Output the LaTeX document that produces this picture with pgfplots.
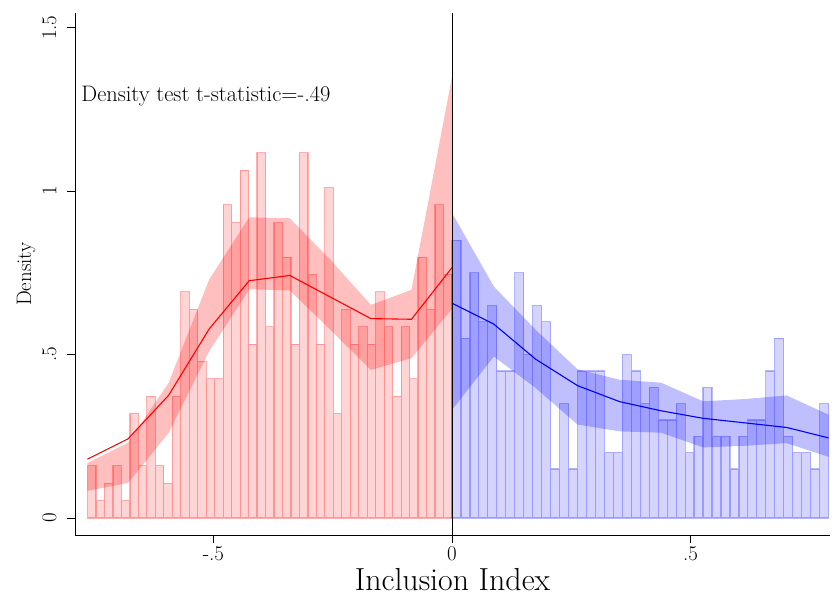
\documentclass[border=0pt]{standalone}
\usepackage{pgfplots}
\pgfplotsset{compat=1.18}
\begin{document}
\begin{tikzpicture}
\begin{axis}[
  scale only axis, width=755bp, height=522bp,
  xmin=-0.790, xmax=0.792, ymin=-0.052, ymax=1.545,
  axis x line*=bottom, axis y line*=left,
  axis line style={-, line width=0.9pt},
  tick align=outside, major tick length=8bp,
  tick style={black, line width=0.9pt},
  xtick={-0.5,0,0.5}, xticklabels={-.5,0,.5},
  ytick={0,0.5,1,1.5}, yticklabels={0,.5,1,1.5},
  /pgf/number format/assume math mode=true,
  ticklabel style={font=\fontsize{21}{23}\selectfont},
  yticklabel style={rotate=90, anchor=south},
  yticklabel shift=7bp,
  xlabel={Inclusion Index}, ylabel={Density},
  xlabel style={font=\fontsize{32}{34}\selectfont, yshift=-1bp},
  ylabel style={font=\fontsize{21}{23}\selectfont},
]
% left histogram
\addplot[ybar interval, fill=red, fill opacity=0.17, draw=red, draw opacity=0.3, line width=1.2pt] coordinates {
(-0.7637,0.160) (-0.7459,0.053) (-0.7282,0.106) (-0.7104,0.160) (-0.6927,0.053) (-0.6749,0.319) (-0.6571,0.160) (-0.6394,0.372) (-0.6216,0.160) (-0.6039,0.106) (-0.5861,0.372) (-0.5683,0.692) (-0.5506,0.638) (-0.5328,0.479) (-0.5151,0.426) (-0.4973,0.426) (-0.4795,0.958) (-0.4618,0.904) (-0.4440,1.064) (-0.4263,0.532) (-0.4085,1.117) (-0.3907,0.585) (-0.3730,0.904) (-0.3552,0.798) (-0.3375,0.532) (-0.3197,1.117) (-0.3019,0.745) (-0.2842,0.532) (-0.2664,1.011) (-0.2487,0.319) (-0.2309,0.638) (-0.2131,0.532) (-0.1954,0.585) (-0.1776,0.532) (-0.1599,0.692) (-0.1421,0.585) (-0.1243,0.372) (-0.1066,0.585) (-0.0888,0.426) (-0.0711,0.798) (-0.0533,0.638) (-0.0355,0.958) (-0.0178,0.745) (0,0)
};
% right histogram
\addplot[ybar interval, fill=blue, fill opacity=0.17, draw=blue, draw opacity=0.27, line width=1.2pt] coordinates {
(0,0.85) (0.0188,0.55) (0.0376,0.75) (0.0563,0.60) (0.0751,0.65) (0.0939,0.45) (0.1127,0.45) (0.1315,0.75) (0.1503,0.50) (0.1690,0.65) (0.1878,0.60) (0.2066,0.15) (0.2254,0.35) (0.2442,0.15) (0.2630,0.45) (0.2817,0.45) (0.3005,0.45) (0.3193,0.20) (0.3381,0.20) (0.3569,0.50) (0.3757,0.45) (0.3944,0.35) (0.4132,0.40) (0.4320,0.30) (0.4508,0.30) (0.4696,0.35) (0.4884,0.20) (0.5071,0.25) (0.5259,0.40) (0.5447,0.25) (0.5635,0.25) (0.5823,0.15) (0.6011,0.25) (0.6198,0.30) (0.6386,0.30) (0.6574,0.45) (0.6762,0.55) (0.6950,0.25) (0.7138,0.20) (0.7325,0.20) (0.7513,0.15) (0.7701,0.35) (0.7889,0)
};
% red confidence band
\addplot[fill=red, fill opacity=0.25, draw=none] coordinates {
(-0.764,0.168) (-0.679,0.230) (-0.594,0.413) (-0.509,0.729) (-0.425,0.920) (-0.340,0.917) (-0.255,0.790) (-0.170,0.652) (-0.085,0.698) (0,1.350)
(0,0.640) (-0.085,0.489) (-0.170,0.453) (-0.255,0.576) (-0.340,0.696) (-0.425,0.700) (-0.509,0.510) (-0.594,0.260) (-0.679,0.107) (-0.764,0.083)
} -- cycle;
% blue confidence band
\addplot[fill=blue, fill opacity=0.25, draw=none] coordinates {
(0,0.933) (0.0877,0.708) (0.175,0.576) (0.263,0.455) (0.351,0.423) (0.438,0.414) (0.526,0.357) (0.614,0.364) (0.701,0.375) (0.789,0.316)
(0.789,0.187) (0.701,0.229) (0.614,0.221) (0.526,0.216) (0.438,0.261) (0.351,0.265) (0.263,0.286) (0.175,0.398) (0.0877,0.494) (0,0.331)
} -- cycle;
% fitted lines
\addplot[red, line width=1.1pt] coordinates {
(-0.764,0.180) (-0.679,0.242) (-0.594,0.375) (-0.509,0.578) (-0.425,0.726) (-0.340,0.742) (-0.255,0.676) (-0.170,0.610) (-0.085,0.608) (0,0.766)
};
\addplot[blue, line width=1.1pt] coordinates {
(0,0.657) (0.0877,0.593) (0.175,0.486) (0.263,0.405) (0.351,0.356) (0.438,0.328) (0.526,0.305) (0.614,0.291) (0.701,0.277) (0.789,0.245)
};
% cutoff line
\addplot[black, line width=0.9pt] coordinates {(0,-0.052) (0,1.545)};
\node[anchor=west, inner sep=0pt, font=\fontsize{22.5}{24}\selectfont] at (axis cs:-0.777,1.29) {Density test t-statistic=-.49};
\end{axis}
\pgfresetboundingbox
\path[use as bounding box] ([xshift=-75bp,yshift=-66bp]current axis.south west) rectangle ([xshift=5bp,yshift=13bp]current axis.north east);
\end{tikzpicture}
\end{document}
